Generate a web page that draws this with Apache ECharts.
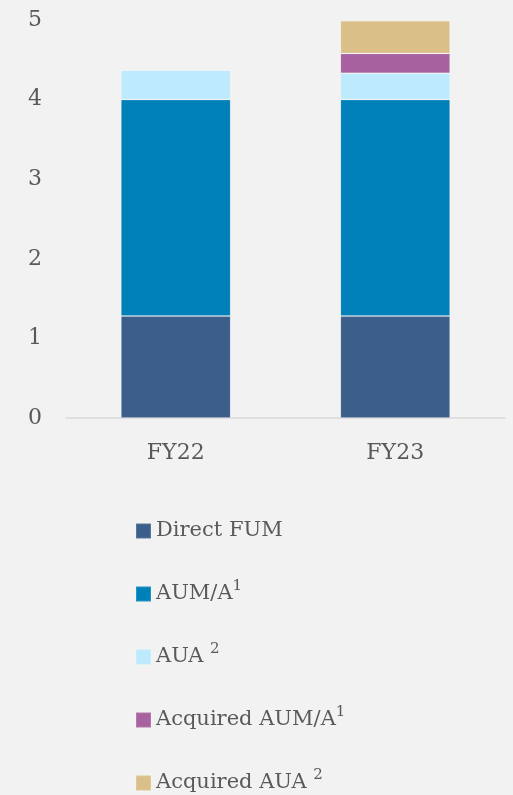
<!DOCTYPE html>
<html>
<head>
<meta charset="utf-8">
<script src="https://cdn.jsdelivr.net/npm/echarts@6/dist/echarts.min.js"></script>
<style>
  html, body { margin: 0; padding: 0; background: #f2f2f2; }
  #main { width: 513px; height: 795px; }
</style>
</head>
<body>
<div id="main"></div>
<script>
// data
const categories = ['FY22', 'FY23'];
const directFum = [1.28, 1.28];
const aumA = [2.72, 2.72];
const aua = [0.37, 0.33];
const acqAumA = [0, 0.25];
const acqAua = [0, 0.41];

const seriesNames = ['Direct FUM', 'AUM/A', 'AUA', 'Acquired AUM/A', 'Acquired AUA'];
const seriesColors = ['#3c5e8a', '#0080b9', '#bdeafd', '#a6619e', '#dabf89'];
const seriesData = [directFum, aumA, aua, acqAumA, acqAua];
// superscripts shown in the legend
const legendSup = { 'AUM/A': '{sup|1}', 'AUA': ' {sup|2}', 'Acquired AUM/A': '{sup|1}', 'Acquired AUA': ' {sup|2}' };

const font = 'DejaVu Serif';
const txt = '#595959';

// one legend per row so the rows sit where they sit in the picture
const legends = seriesNames.map((name, i) => ({
    orient: 'vertical',
    left: 130,
    top: 511 + i * 63,
    icon: 'rect',
    itemWidth: 15,
    itemHeight: 15,
    data: [name],
    formatter: function (n) {
        return n + (legendSup[n] || '');
    },
    textStyle: {
        color: txt,
        fontFamily: font,
        fontSize: 21,
        lineHeight: 30,
        rich: {
            sup: { fontSize: 15, fontFamily: font, color: txt, lineHeight: 30, padding: [0, 0, 15, 0] }
        }
    }
}));

const chart = echarts.init(document.getElementById('main'));
chart.setOption({
    backgroundColor: '#f2f2f2',
    animation: false,
    grid: { left: 66, right: 8, top: 20, bottom: 377 },
    xAxis: {
        type: 'category',
        data: categories,
        axisLine: { lineStyle: { color: '#d9d9d9', width: 1.5 } },
        axisTick: { show: false },
        axisLabel: { color: txt, fontFamily: font, fontSize: 22, margin: 24 }
    },
    yAxis: {
        type: 'value',
        min: 0,
        max: 5,
        interval: 1,
        splitLine: { show: false },
        axisLine: { show: false },
        axisTick: { show: false },
        axisLabel: { color: txt, fontFamily: font, fontSize: 22, margin: 24 }
    },
    legend: legends,
    series: seriesNames.map((name, i) => ({
        name: name,
        type: 'bar',
        stack: 'total',
        barWidth: '50%',
        data: seriesData[i],
        itemStyle: { color: seriesColors[i], borderColor: 'rgba(255,255,255,0.15)', borderWidth: 1 }
    }))
});
</script>
</body>
</html>
